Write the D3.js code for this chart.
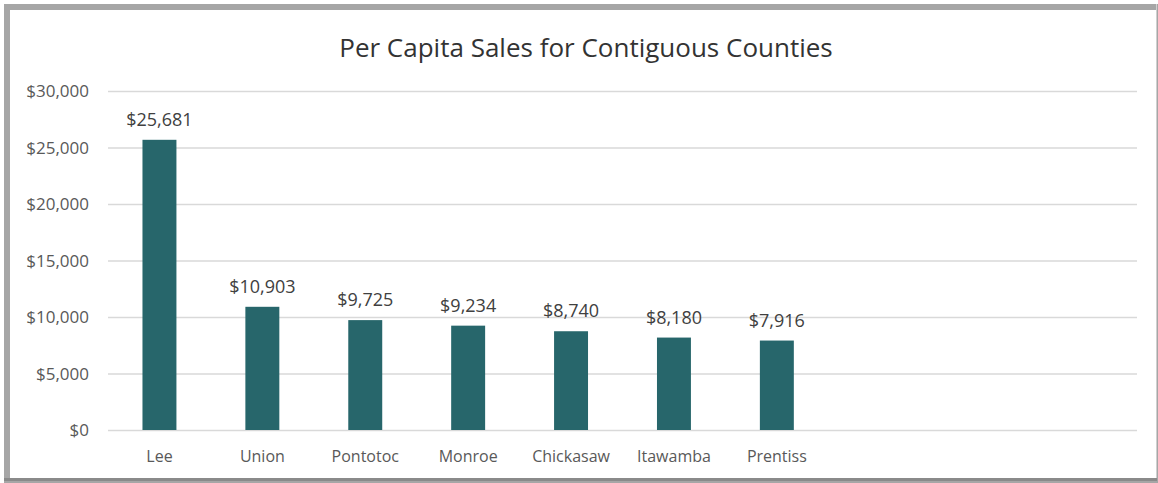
<!DOCTYPE html>
<html>
<head>
<meta charset="utf-8">
<script src="https://cdn.jsdelivr.net/npm/d3@7"></script>
<style>
body { margin: 0; background: #fff; }
text { font-family: "Open Sans", Lato, sans-serif; }
</style>
</head>
<body>
<div id="chart"></div>
<script>
// ----------------------------------------------------------
// DATA -----------------------------------------------------
// ----------------------------------------------------------
var counties = ["Lee", "Union", "Pontotoc", "Monroe", "Chickasaw", "Itawamba", "Prentiss"];
var sales = [25681, 10903, 9725, 9234, 8740, 8180, 7916];
// empty slots to the right of the bars, as in the original
var empty_slots = ["_e1", "_e2", "_e3"];
var y_ticks = [0, 5000, 10000, 15000, 20000, 25000, 30000];
var title_text = "Per Capita Sales for Contiguous Counties";

// ----------------------------------------------------------
// STRUCTURE ------------------------------------------------
// ----------------------------------------------------------
var W = 1158, H = 483;
var plot = { left: 108, right: 1137, top: 91, bottom: 430 };

var svg = d3.select("#chart").append("svg")
  .attr("width", W)
  .attr("height", H);

// outer frame
svg.append("rect")
  .attr("x", 7).attr("y", 7)
  .attr("width", W - 9).attr("height", H - 10)
  .style("fill", "#fff")
  .style("stroke", "#a6a6a6")
  .style("stroke-width", 6);
svg.append("rect")
  .attr("x", 10).attr("y", 10)
  .attr("width", W - 12).attr("height", H - 13)
  .style("fill", "#fff");
// thin right / bottom edges
svg.append("line")
  .attr("x1", W - 1.5).attr("x2", W - 1.5).attr("y1", 4).attr("y2", H - 3)
  .style("stroke", "#d0d0d0").style("stroke-width", 1);
svg.append("line")
  .attr("x1", 4).attr("x2", W - 1).attr("y1", H - 3.5).attr("y2", H - 3.5)
  .style("stroke", "#8a8a8a").style("stroke-width", 3);

// ----------------------------------------------------------
// SCALES ---------------------------------------------------
// ----------------------------------------------------------
var xScale = d3.scaleBand()
  .domain(counties.concat(empty_slots))
  .range([plot.left, plot.right])
  .paddingInner(0.67)
  .paddingOuter(0.335);

var yScale = d3.scaleLinear()
  .domain([0, 30000])
  .range([plot.bottom, plot.top]);

var fmt = d3.format("$,");

// ----------------------------------------------------------
// AXES -----------------------------------------------------
// ----------------------------------------------------------
svg.append("g")
  .attr("transform", "translate(" + plot.left + ",0)")
  .call(d3.axisRight(yScale)
    .tickValues(y_ticks)
    .tickSize(plot.right - plot.left)
    .tickFormat(fmt))
  .call(function(g) {
    g.select(".domain").remove();
    g.selectAll(".tick line").attr("stroke", "#d9d9d9").attr("stroke-width", 1.3);
    g.selectAll(".tick text")
      .attr("x", -19)
      .attr("dy", "0.34em")
      .attr("text-anchor", "end")
      .style("font-size", "17px")
      .style("fill", "#595959");
  });

svg.append("g")
  .attr("transform", "translate(0," + plot.bottom + ")")
  .call(d3.axisBottom(xScale).tickSize(0))
  .call(function(g) {
    g.select(".domain").remove();
    g.selectAll(".tick")
      .filter(function(d) { return empty_slots.indexOf(d) >= 0; })
      .remove();
    g.selectAll(".tick text")
      .attr("y", 21)
      .attr("dy", "0.71em")
      .style("font-size", "16px")
      .style("fill", "#595959");
  });

// ----------------------------------------------------------
// BARS -----------------------------------------------------
// ----------------------------------------------------------
var bar_data = counties.map(function(c, i) { return { name: c, value: sales[i] }; });

svg.append("g").selectAll("rect")
  .data(bar_data)
  .enter()
  .append("rect")
  .attr("x", function(d) { return xScale(d.name); })
  .attr("y", function(d) { return yScale(d.value); })
  .attr("width", xScale.bandwidth())
  .attr("height", function(d) { return yScale(0) - yScale(d.value); })
  .style("fill", "#27666b");

svg.append("g").selectAll("text")
  .data(bar_data)
  .enter()
  .append("text")
  .attr("x", function(d) { return xScale(d.name) + xScale.bandwidth() / 2; })
  .attr("y", function(d) { return yScale(d.value) - 14; })
  .attr("text-anchor", "middle")
  .style("font-size", "18px")
  .style("fill", "#404040")
  .text(function(d) { return fmt(d.value); });

// ----------------------------------------------------------
// TEXT -----------------------------------------------------
// ----------------------------------------------------------
svg.append("text")
  .attr("x", 586)
  .attr("y", 57)
  .attr("text-anchor", "middle")
  .style("font-size", "26px")
  .style("fill", "#333333")
  .text(title_text);
</script>
</body>
</html>
